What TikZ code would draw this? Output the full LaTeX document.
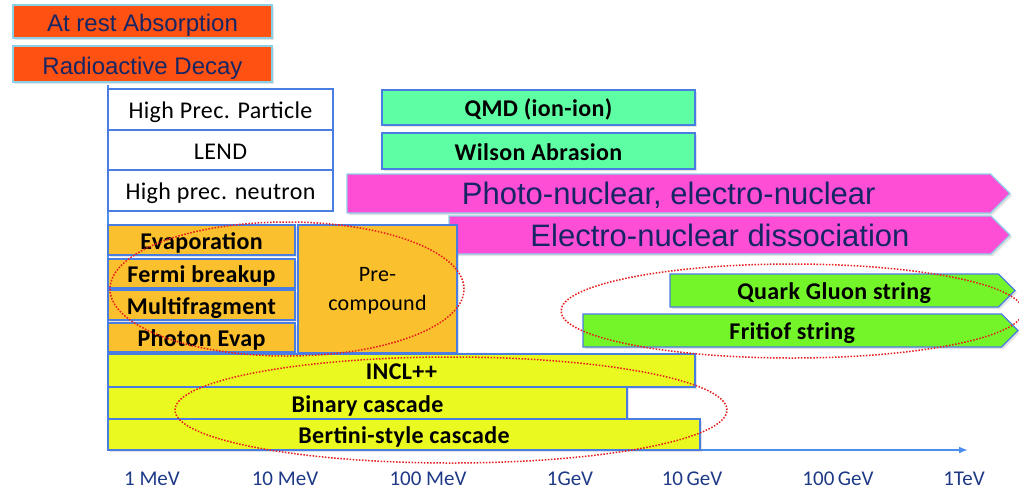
\documentclass[tikz,border=0pt]{standalone}
\usepackage{fontspec}
\setmainfont{Carlito}[LetterSpace=1.5]
\newfontfamily\arialfont{Liberation Sans}
\newfontfamily\axisfont{Carlito}
\usetikzlibrary{arrows.meta, positioning, shapes.symbols, shadows}
\definecolor{restfill}{RGB}{255,82,18}
\definecolor{paleedge}{RGB}{140,208,232}
\definecolor{navy}{RGB}{22,38,100}
\definecolor{boxedge}{RGB}{74,125,226}
\definecolor{ionfill}{RGB}{94,255,164}
\definecolor{photofill}{RGB}{255,78,214}
\definecolor{stringfill}{RGB}{115,245,42}
\definecolor{evapfill}{RGB}{251,192,45}
\definecolor{cascfill}{RGB}{234,250,32}
\definecolor{axisblue}{RGB}{76,142,240}
\definecolor{ringred}{RGB}{232,28,28}
\definecolor{ticknavy}{RGB}{30,58,135}
\tikzset{
  box/.style={draw=boxedge, line width=1.2pt, inner sep=0pt, outer sep=0pt, anchor=north west, align=center},
  oneline/.style={text height=#1, text depth=1pt},
  oneline/.default=19.5pt,
  shade/.style={drop shadow={opacity=0.22, shadow xshift=2pt, shadow yshift=-2pt}},
  restbox/.style={box, oneline=21pt, shade, fill=restfill, draw=paleedge, text=navy, minimum width=259pt,
    font=\arialfont\fontsize{24}{28}\selectfont},
  hpbox/.style={box, oneline, fill=white, minimum width=225pt, minimum height=41pt, font=\fontsize{24}{28}\selectfont},
  ionbox/.style={box, oneline, shade, fill=ionfill, minimum width=313pt, font=\bfseries\fontsize{24}{28}\selectfont},
  photo/.style={box, oneline=23pt, shade, shape=signal, signal to=east, fill=photofill, draw=paleedge, text=navy,
    minimum height=39pt, font=\arialfont\fontsize{31}{36}\selectfont},
  stringarrow/.style={box, oneline, shade, shape=signal, signal to=east, fill=stringfill, minimum height=33pt,
    font=\bfseries\fontsize{24}{28}\selectfont},
  evapbox/.style={box, oneline, shade, fill=evapfill, minimum width=187pt, font=\bfseries\fontsize{24}{28}\selectfont},
  cascbox/.style={box, oneline, shade, fill=cascfill, font=\bfseries\fontsize{24}{28}\selectfont},
  ring/.style={draw=ringred, line width=1.5pt, dash pattern=on 1.5pt off 1.6pt},
  tick/.style={text=ticknavy, font=\axisfont\fontsize{21}{25}\selectfont},
}
\begin{document}
\begin{tikzpicture}[x=1pt, y=-1pt]
  \useasboundingbox[fill=white] (0,0) rectangle (1019,491);

  % axes
  \coordinate (origin) at (108,450);
  \coordinate (ytop) at (108,85);
  \coordinate (xend) at (968,450);
  \draw[axisblue, line width=2pt] (ytop) -- (origin);
  \draw[axisblue, line width=2pt, -{Latex[length=9pt,width=7pt]}] (origin) -- (xend);
  \foreach \lab/\xx in {1 MeV/152, 10 MeV/285, 100 MeV/428, 1GeV/570, 10\,GeV/692, 100\,GeV/838, 1TeV/964}
    \node[tick] (t\xx) at (\xx,479) {\lab};

  % at rest / decay
  \node[restbox, minimum height=33pt] (rest) at (13,5) {At rest Absorption};
  \node[restbox, minimum height=36pt] (decay) at (13,46) {Radioactive Decay};

  % high precision
  \node[hpbox] (hpp) at (108,89) {High Prec. Particle};
  \node[hpbox, minimum height=40pt, below=0pt of hpp] (lend) {LEND};
  \node[hpbox, below=0pt of lend] (hpn) {High prec. neutron};

  % ion-ion
  \node[ionbox, minimum height=35pt] (qmd) at (382,90) {QMD (ion-ion)};
  \node[ionbox, minimum height=36pt] (wilson) at (382,133) {Wilson Abrasion};

  % photo / electro
  \node[photo, minimum width=663pt] (photonuc) at (347,174) {Photo-nuclear, electro-nuclear};
  \node[photo, minimum width=561pt, minimum height=38pt] (electronuc) at (449,216) {Electro-nuclear dissociation};

  % de-excitation
  \node[evapbox, minimum height=30pt] (evap) at (108,225) {Evaporation};
  \node[evapbox, minimum height=29pt] (fermi) at (108,259) {Fermi breakup};
  \node[evapbox, minimum height=30pt] (multi) at (108,290) {Multifragment};
  \node[evapbox, minimum height=29pt] (phevap) at (108,323) {Photon Evap};
  \node[box, shade, fill=evapfill, minimum width=159pt, minimum height=128pt, text depth=0pt,
    font=\fontsize{22}{29}\selectfont] (precomp) at (298,225) {Pre-\\compound};

  % strings
  \node[stringarrow, minimum width=345pt] (qgs) at (670,274) {Quark Gluon string};
  \node[stringarrow, minimum width=435pt] (ftf) at (583,314) {Fritiof string};

  % cascades
  \node[cascbox, minimum width=587pt, minimum height=33pt] (incl) at (108,354) {INCL++};
  \node[cascbox, minimum width=519pt, minimum height=32pt] (binary) at (108,387) {Binary cascade};
  \node[cascbox, minimum width=592pt, minimum height=31pt] (bertini) at (108,419) {Bertini-style cascade};

  % groupings
  \coordinate (evapring) at (287,289);
  \coordinate (stringring) at (792,311);
  \coordinate (cascring) at (451,410);
  \draw[ring] (evapring) ellipse [x radius=177pt, y radius=67pt];
  \draw[ring] (stringring) ellipse [x radius=231pt, y radius=47pt];
  \draw[ring] (cascring) ellipse [x radius=276pt, y radius=53pt];
\end{tikzpicture}
\end{document}
